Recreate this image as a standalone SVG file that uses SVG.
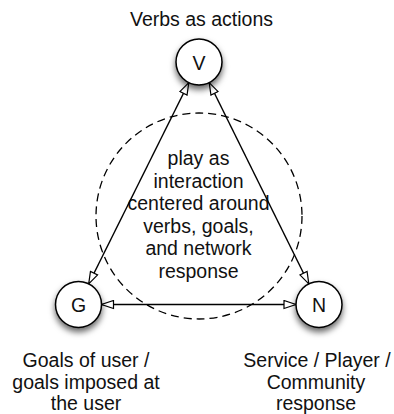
<svg xmlns="http://www.w3.org/2000/svg" width="394" height="414" viewBox="0 0 394 414">
<style>
text{font-family:"Liberation Sans",Arial,Helvetica,sans-serif;font-size:19.5px;fill:#111;text-anchor:middle}
.node circle{fill:#fff;stroke:#000;stroke-width:1.5}
.conn line{stroke:#000;stroke-width:1.3;marker-start:url(#ah);marker-end:url(#ah)}
.dash{fill:none;stroke:#000;stroke-width:1.3;stroke-dasharray:8 5}
</style>
<defs>
<filter id="sh" x="-50%" y="-50%" width="200%" height="200%">
<feDropShadow dx="0" dy="4" stdDeviation="3" flood-color="#000" flood-opacity="0.6"/>
</filter>
<marker id="ah" viewBox="0 0 14 10" markerWidth="14" markerHeight="10" refX="13" refY="5" orient="auto-start-reverse" markerUnits="userSpaceOnUse">
<path d="M1,1 L13,5 L1,9 z" fill="#fff" stroke="#000" stroke-width="1.2"/>
</marker>
</defs>
<rect width="394" height="414" fill="#fff"/>
<circle class="dash" cx="199" cy="216" r="103"/>
<g id="center-label">
<text x="198.5" y="165">play as</text>
<text x="198.5" y="187.5">interaction</text>
<text x="198.5" y="210">centered around</text>
<text x="198.5" y="232.5">verbs, goals,</text>
<text x="198.5" y="255">and network</text>
<text x="198.5" y="277.5">response</text>
</g>
<g id="connectors" class="conn">
<line x1="188.8" y1="82.6" x2="88.7" y2="283.9"/>
<line x1="209.2" y1="82.6" x2="308.8" y2="283.9"/>
<line x1="101.5" y1="304.5" x2="296" y2="304.5"/>
</g>
<g id="node-V" class="node">
<circle cx="199" cy="62" r="23" filter="url(#sh)"/>
<text x="199" y="69.5">V</text>
<text x="201.5" y="26">Verbs as actions</text>
</g>
<g id="node-G" class="node">
<circle cx="78.5" cy="304.5" r="23" filter="url(#sh)"/>
<text x="78.5" y="312">G</text>
<text x="86" y="367">Goals of user /</text>
<text x="86" y="389">goals imposed at</text>
<text x="86" y="409.5">the user</text>
</g>
<g id="node-N" class="node">
<circle cx="319" cy="304.5" r="23" filter="url(#sh)"/>
<text x="319" y="312">N</text>
<text x="317" y="367">Service / Player /</text>
<text x="316" y="389">Community</text>
<text x="316" y="409.5">response</text>
</g>
</svg>
